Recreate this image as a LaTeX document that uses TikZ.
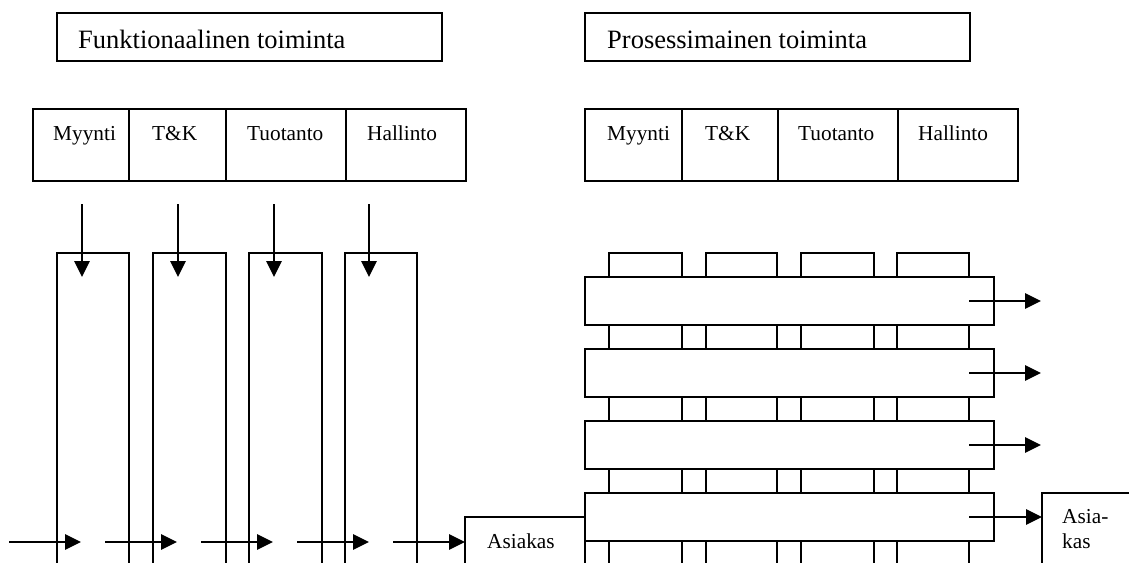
\documentclass[tikz,border=0pt]{standalone}
\usepackage{fontspec}
\setmainfont{Liberation Serif}
\usetikzlibrary{arrows.meta}

\tikzset{
  frame/.style={draw, line width=1.4pt, fill=white, inner sep=0pt, outer sep=0pt, anchor=north west},
  titletext/.style={anchor=base west, inner sep=0pt, font=\fontsize{26.5}{30}\selectfont},
  labeltext/.style={anchor=base west, inner sep=0pt, font=\fontsize{21.3}{25}\selectfont},
  flow/.style={line width=1.4pt, -{Triangle[length=16pt,width=15.5pt]}}
}

\begin{document}
\begin{tikzpicture}[x=1pt, y=-1pt]
  \useasboundingbox (0,0) rectangle (1129,562);
  \clip (0,0) rectangle (1129,562);

  % ---------- functional organisation (left) ----------
  \node[frame, minimum width=385pt, minimum height=48pt] (titleL) at (57,13) {};
  \node[titletext] (titleLt) at (78,48) {Funktionaalinen toiminta};

  \node[frame, minimum width=121pt, minimum height=72pt] (myL) at (33,109) {};
  \node[frame, minimum width=97pt,  minimum height=72pt] (tkL) at (129,109) {};
  \node[frame, minimum width=120pt, minimum height=72pt] (tuL) at (226,109) {};
  \node[frame, minimum width=120pt, minimum height=72pt] (haL) at (346,109) {};
  \node[labeltext] (myLt) at (53,140) {Myynti};
  \node[labeltext] (tkLt) at (152,140) {T\&K};
  \node[labeltext] (tuLt) at (247,140) {Tuotanto};
  \node[labeltext] (haLt) at (367,140) {Hallinto};

  % vertical function columns
  \node[frame, minimum width=72pt, minimum height=340pt] (c1) at (57,253) {};
  \node[frame, minimum width=73pt, minimum height=340pt] (c2) at (153,253) {};
  \node[frame, minimum width=73pt, minimum height=340pt] (c3) at (249,253) {};
  \node[frame, minimum width=72pt, minimum height=340pt] (c4) at (345,253) {};

  % customer box of the functional chain
  \node[frame, minimum width=120pt, minimum height=100pt] (asL) at (465,517) {};
  \node[labeltext] (asLt) at (487,548) {Asiakas};

  % top-down arrows into the columns
  \foreach \i/\x in {1/82, 2/178, 3/274, 4/369} {
    \coordinate (ds\i) at (\x,204);
    \coordinate (de\i) at (\x,277);
    \draw[flow] (ds\i) -- (de\i);
  }

  % hand-over arrows along the bottom
  \foreach \i/\a/\b in {1/9/81, 2/105/177, 3/201/273, 4/297/369} {
    \coordinate (hs\i) at (\a,542);
    \coordinate (he\i) at (\b,542);
    \draw[flow] (hs\i) -- (he\i);
  }
  \coordinate (hs5) at (393,542);
  \draw[flow] (hs5) -- (hs5 -| asL.west);

  % ---------- process organisation (right) ----------
  \node[frame, minimum width=385pt, minimum height=48pt] (titleR) at (585,13) {};
  \node[titletext] (titleRt) at (607,48) {Prosessimainen toiminta};

  \node[frame, minimum width=122pt, minimum height=72pt] (myR) at (585,109) {};
  \node[frame, minimum width=96pt,  minimum height=72pt] (tkR) at (682,109) {};
  \node[frame, minimum width=120pt, minimum height=72pt] (tuR) at (778,109) {};
  \node[frame, minimum width=120pt, minimum height=72pt] (haR) at (898,109) {};
  \node[labeltext] (myRt) at (607,140) {Myynti};
  \node[labeltext] (tkRt) at (705,140) {T\&K};
  \node[labeltext] (tuRt) at (798,140) {Tuotanto};
  \node[labeltext] (haRt) at (918,140) {Hallinto};

  % function columns behind the processes
  \node[frame, minimum width=73pt, minimum height=340pt] (p1) at (609,253) {};
  \node[frame, minimum width=71pt, minimum height=340pt] (p2) at (706,253) {};
  \node[frame, minimum width=73pt, minimum height=340pt] (p3) at (801,253) {};
  \node[frame, minimum width=72pt, minimum height=340pt] (p4) at (897,253) {};

  % process bars across the functions
  \foreach \i/\y in {1/277, 2/349, 3/421, 4/493} {
    \node[frame, minimum width=409pt, minimum height=48pt] (bar\i) at (585,\y) {};
  }

  % customer box of the process chain
  \node[frame, minimum width=120pt, minimum height=100pt] (asR) at (1042,493) {};
  \node[labeltext] (asRt1) at (1062,523) {Asia-};
  \node[labeltext] (asRt2) at (1062,548) {kas};

  % process outputs
  \foreach \i in {1,2,3} {
    \coordinate (os\i) at (969,0 |- bar\i.center);
    \coordinate (oe\i) at (1041,0 |- bar\i.center);
    \draw[flow] (os\i) -- (oe\i);
  }
  \coordinate (os4) at (969,0 |- bar4.center);
  \draw[flow] (os4) -- (os4 -| asR.west);
\end{tikzpicture}
\end{document}
